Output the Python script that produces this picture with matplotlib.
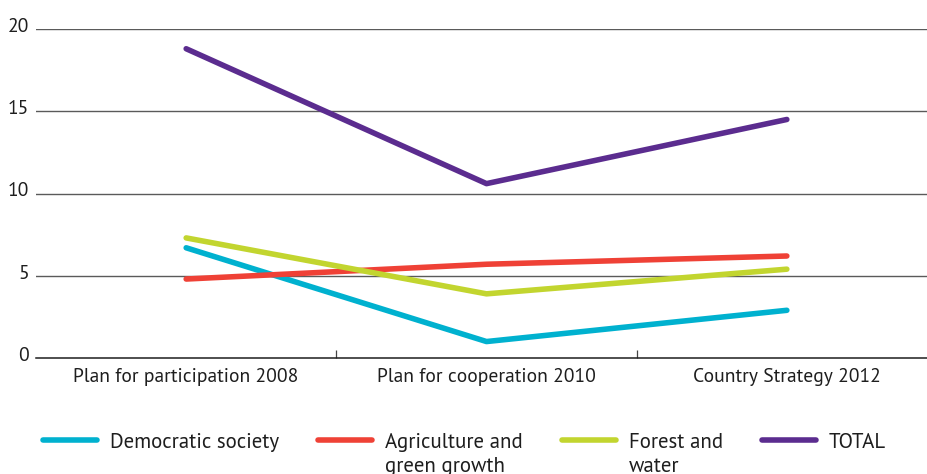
import matplotlib
matplotlib.use("Agg")
import matplotlib.pyplot as plt
from matplotlib.ticker import FixedLocator
from matplotlib.transforms import ScaledTranslation

categories = ["Plan for participation 2008", "Plan for cooperation 2010", "Country Strategy 2012"]
democratic = [6.7, 1.0, 2.9]
agriculture = [4.8, 5.7, 6.2]
forest = [7.3, 3.9, 5.4]
total = [18.8, 10.6, 14.5]
legend_first = ["Democratic society", "Agriculture and", "Forest and", "TOTAL"]
legend_second = ["", "green growth", "water", ""]
colors = ["#00B1CF", "#EF4136", "#C2D52F", "#5B2C8F"]
yticks = [0, 5, 10, 15, 20]

plt.rcParams['font.family'] = ['PT Sans', 'DejaVu Sans']
fs = 14
lfs = 15
tc = '#1e1e1e'

fig = plt.figure(figsize=(9.28, 4.74), dpi=100)
ax = fig.add_axes([36/928, 1-358/474, 1-36/928, (358-29)/474])

x = list(range(len(categories)))
handles = []
for vals, c in zip([democratic, agriculture, forest, total], colors):
    h, = ax.plot(x, vals, color=c, lw=4, solid_capstyle='round', zorder=3)
    handles.append(h)

ax.set_xlim(-0.5, 2.47)
ax.set_ylim(0, 20)
ax.set_yticks(yticks)
ax.set_yticklabels([str(v) for v in yticks], fontsize=fs, color=tc)
ax.tick_params(axis='y', length=0, pad=5)
off = ScaledTranslation(0, 4/100, fig.dpi_scale_trans)
for lab in ax.get_yticklabels():
    lab.set_transform(lab.get_transform() + off)
ax.set_xticks(x)
ax.set_xticklabels(categories, fontsize=fs, color=tc)
ax.tick_params(axis='x', which='major', length=0, pad=7)
ax.xaxis.set_minor_locator(FixedLocator([0.5, 1.5]))
ax.tick_params(axis='x', which='minor', direction='in', length=6, width=0.9, color='#444444')
for v in yticks[1:]:
    ax.axhline(v, color='#5a5a5a', lw=1.0, zorder=1)
for s in ['top', 'right', 'left']:
    ax.spines[s].set_visible(False)
ax.spines['bottom'].set_color('#1e1e1e')
ax.spines['bottom'].set_linewidth(1.1)

em = lfs * 100 / 72
leg = fig.legend(handles=handles, labels=legend_first, loc='center left',
                 bbox_to_anchor=(43/928, 1-442/474), ncol=4, frameon=False,
                 fontsize=lfs, handlelength=54/em, handletextpad=13/em, columnspacing=39/em,
                 borderaxespad=0, borderpad=0)
for lh in leg.get_lines():
    lh.set_linewidth(4)
    lh.set_solid_capstyle('round')
for t in leg.get_texts():
    t.set_color(tc)

fig.canvas.draw()
r = fig.canvas.get_renderer()
inv = fig.transFigure.inverted()
for t, s in zip(leg.get_texts(), legend_second):
    if s:
        bb = t.get_window_extent(r)
        x0, y0 = inv.transform((bb.x0, bb.y0))
        fig.text(x0, y0 - 25/474, s, fontsize=lfs, color=tc, ha='left', va='bottom')

fig.savefig("out.png", dpi=100)
